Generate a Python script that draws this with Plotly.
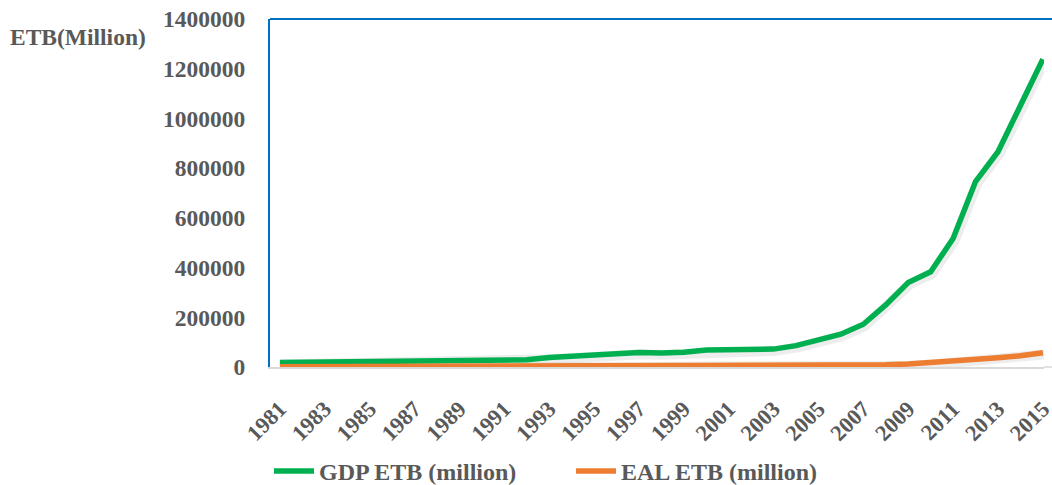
import plotly.graph_objects as go

# Annual series, 1981-2015, in million birr
years = list(range(1981, 2016))
gdp_etb = [18000, 19000, 20000, 19000, 21000, 22000, 23000, 24000, 25000, 26000,
           28000, 29000, 38000, 42000, 50000, 55000, 58000, 56000, 59000, 68000,
           69000, 67000, 72000, 86000, 107000, 132000, 172000, 250000, 340000, 383000,
           517000, 746000, 866000, 1052000, 1238000]
eal_etb = [1500, 1600, 1700, 1800, 1900, 2000, 2100, 2200, 2300, 2400,
           2500, 2600, 2800, 3000, 3200, 3400, 3500, 3600, 3700, 3800,
           3900, 4000, 4200, 4500, 5000, 5800, 7000, 9000, 12000, 17000,
           24000, 32000, 37000, 45000, 57500]
series_names = ["GDP ETB (million)", "EAL ETB (million)"]
series_colors = ["#00B050", "#ED7D31"]
y_ticks = [0, 200000, 400000, 600000, 800000, 1000000, 1200000, 1400000]
x_ticks = years[::2]

FONT = "Liberation Serif"
GREY = "#595959"
W, H, ML, MR = 1052, 485, 270, 8
plot_w = W - ML - MR

fig = go.Figure()

# soft drop shadow beneath each line
for vals in (gdp_etb, eal_etb):
    fig.add_trace(go.Scatter(
        x=[y + 0.08 for y in years], y=[v - 7000 for v in vals],
        mode="lines", line=dict(color="rgba(0,0,0,0.07)", width=10),
        hoverinfo="skip", showlegend=False))

for name, vals, col in zip(series_names, (gdp_etb, eal_etb), series_colors):
    fig.add_trace(go.Scatter(
        x=years, y=vals, name=name, mode="lines",
        line=dict(color=col, width=5.5)))

fig.update_layout(
    width=W, height=H,
    margin=dict(l=ML, r=MR, t=19, b=118, autoexpand=False),
    paper_bgcolor="white", plot_bgcolor="white",
    font=dict(family=FONT, size=24, color=GREY),
    showlegend=True,
    legend=dict(orientation="h", x=-1 / plot_w, y=-0.3, xanchor="left", yanchor="middle",
                font=dict(family=FONT, size=24, color=GREY, weight="bold"),
                itemwidth=40, tracegroupgap=0,
                entrywidth=247, entrywidthmode="pixels"),
    xaxis=dict(range=[1980.56, 2015.05], tickmode="array", tickvals=x_ticks,
               ticktext=[str(t) for t in x_ticks], tickangle=-45,
               ticklabeloverflow="allow", automargin=False,
               showgrid=False, zeroline=False, showline=True,
               linecolor="#D9D9D9", linewidth=1.5, ticks="", ticklabelstandoff=18,
               tickfont=dict(family=FONT, size=22.5, color=GREY, weight="bold")),
    yaxis=dict(range=[0, 1400000], tickmode="array", tickvals=y_ticks,
               ticktext=[str(t) for t in y_ticks], automargin=False,
               showgrid=False, zeroline=False, showline=True,
               linecolor="#0070C0", linewidth=2, ticks="", ticklabelstandoff=18,
               tickfont=dict(family=FONT, size=23.5, color=GREY, weight="bold")),
    shapes=[dict(type="line", xref="paper", yref="paper", x0=0, x1=1 + MR / plot_w,
                 y0=1, y1=1, line=dict(color="#0070C0", width=2)),
            dict(type="line", xref="paper", yref="paper", x0=1, x1=1 + MR / plot_w,
                 y0=0, y1=0, line=dict(color="#D9D9D9", width=1.5))],
    annotations=[dict(text="ETB(Million)", xref="paper", yref="paper",
                      x=-262 / plot_w, y=0.948, xanchor="left", yanchor="middle",
                      showarrow=False,
                      font=dict(family=FONT, size=23.5, color=GREY, weight="bold"))],
)

fig.write_html("out.html")
